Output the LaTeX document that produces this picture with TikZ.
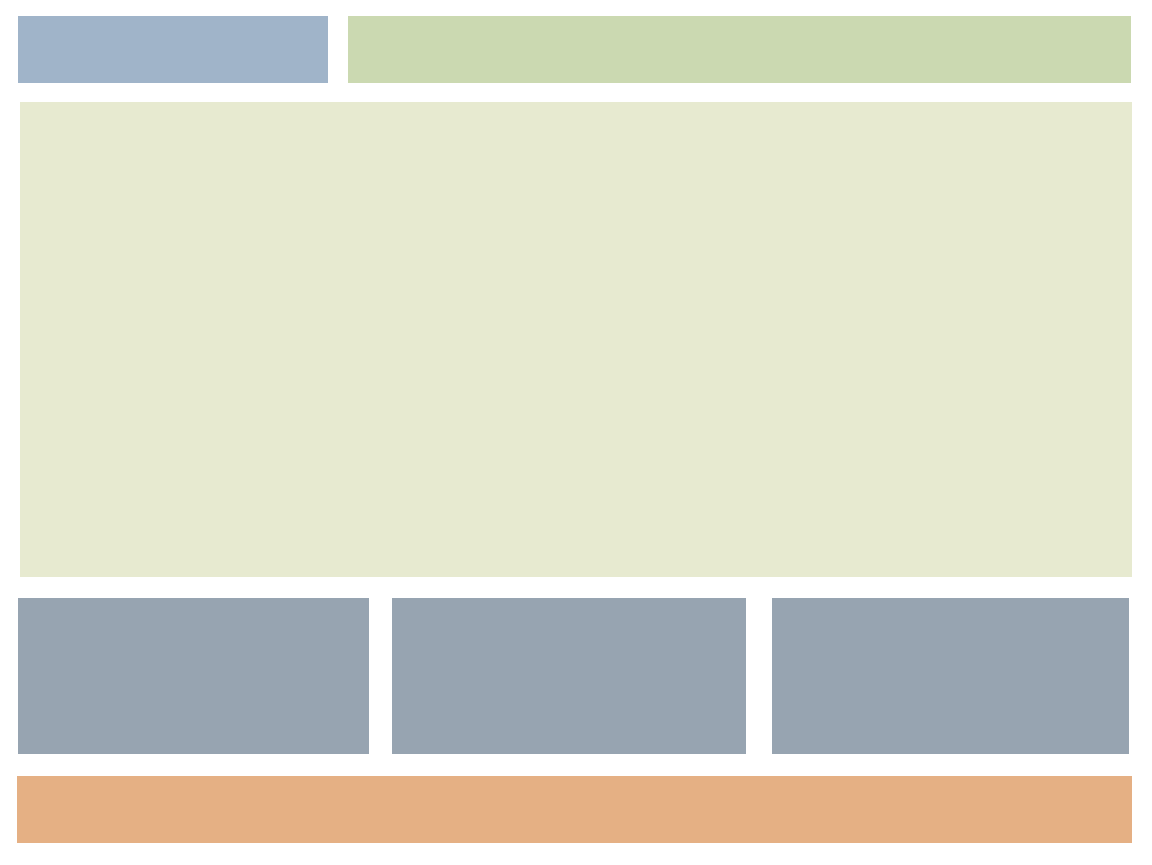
\documentclass[tikz,border=0pt]{standalone}
\definecolor{cblue}{HTML}{A0B4C9}
\definecolor{cgreen}{HTML}{CBD9B1}
\definecolor{cbig}{HTML}{E7EAD0}
\definecolor{cgray}{HTML}{97A4B1}
\definecolor{corange}{HTML}{E5B084}
\begin{document}
\begin{tikzpicture}[x=0.5pt,y=-0.5pt,
  panel/.style={draw=none,inner sep=0pt,outer sep=0pt,rectangle}]
\useasboundingbox (0,0) rectangle (1152,864);
\node[panel,fill=cblue,minimum width=155pt,minimum height=33.5pt] (topleft) at (173,49.5) {};
\node[panel,fill=cgreen,minimum width=391.5pt,minimum height=33.5pt] (topright) at (739.5,49.5) {};
\node[panel,fill=cbig,minimum width=556pt,minimum height=237.5pt] (main) at (576,339.5) {};
\node[panel,fill=cgray,minimum width=175.5pt,minimum height=78pt] (boxa) at (193.5,676) {};
\node[panel,fill=cgray,minimum width=177pt,minimum height=78pt] (boxb) at (569,676) {};
\node[panel,fill=cgray,minimum width=178.5pt,minimum height=78pt] (boxc) at (950.5,676) {};
\node[panel,fill=corange,minimum width=557.5pt,minimum height=33.5pt] (footer) at (574.5,809.5) {};
\end{tikzpicture}
\end{document}
